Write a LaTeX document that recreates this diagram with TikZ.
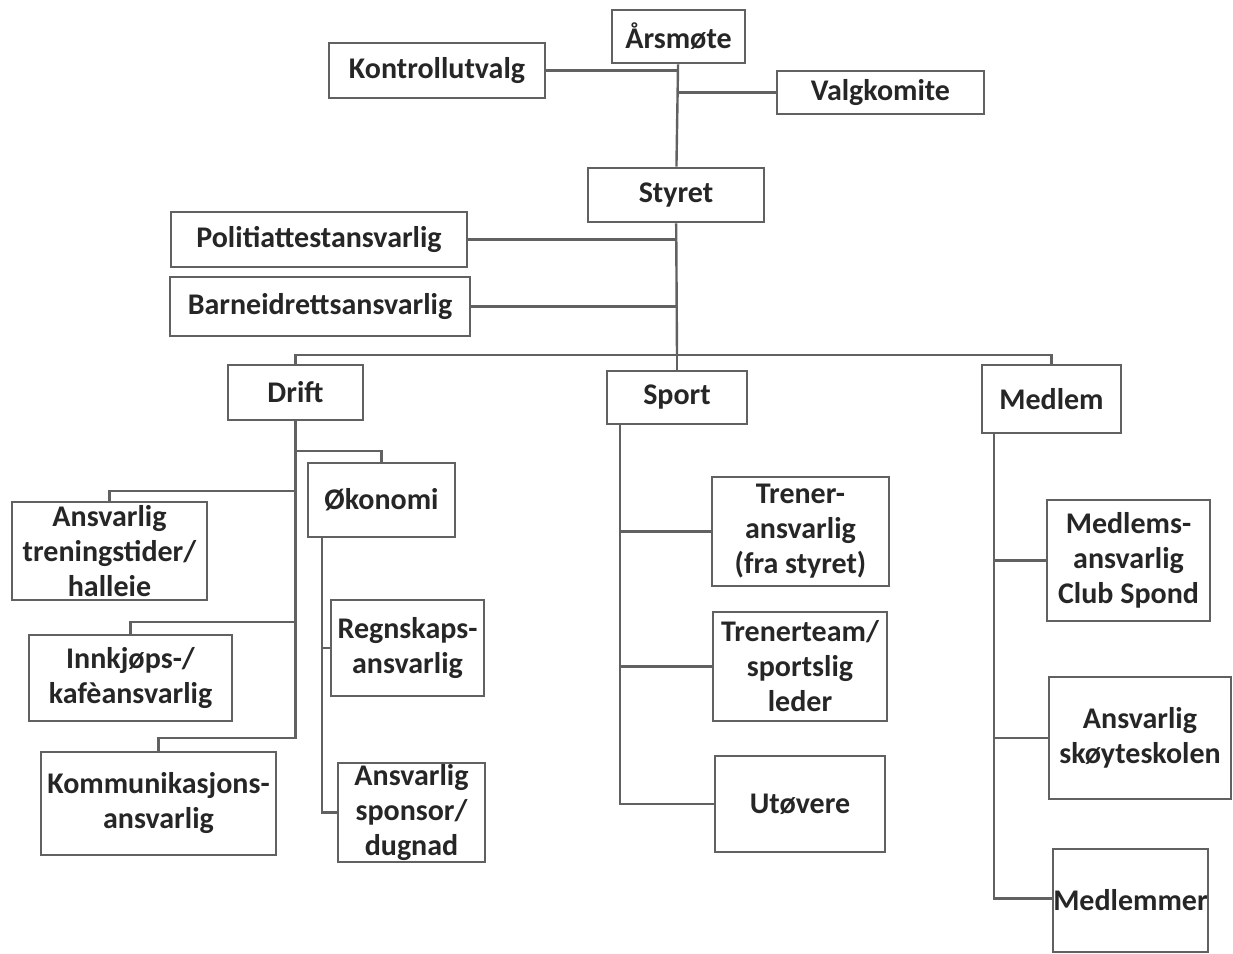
\documentclass[tikz,border=0pt]{standalone}
\usepackage{fontspec}
\setmainfont{Carlito}
\usepackage{tikz}
\usetikzlibrary{positioning}

\definecolor{linegray}{gray}{0.38}

\begin{document}
\begin{tikzpicture}[%
    x=0.5pt,
    y=-0.5pt,
    line width=1.2pt,
    every path/.style={draw=linegray},
    box/.style={draw=linegray, line width=1.3pt, inner sep=0pt, align=center,
      font=\fontsize{15}{17.5}\selectfont\bfseries, text=black!85}
    ]

    \useasboundingbox[draw=none] (0,0) rectangle (1233,954);

    % top
    \node[box, minimum width=66.5pt, minimum height=26.5pt] (arsmote) at (678.5,36.5) {Årsmøte};
    \node[box, minimum width=108pt, minimum height=27.5pt] (kontroll) at (437,70.5) {Kontrollutvalg};
    \node[box, minimum width=103.5pt, minimum height=21.5pt] (valg) at (880.5,92.5) {Valgkomite};
    \node[box, minimum width=88pt, minimum height=27pt] (styret) at (676,195) {Styret};
    \node[box, minimum width=148pt, minimum height=27.5pt] (politi) at (319,239.5) {Politiattestansvarlig};
    \node[box, minimum width=150pt, minimum height=29.5pt] (barne) at (320,306.5) {Barneidrettsansvarlig};

    % groups
    \node[box, minimum width=67.5pt, minimum height=27.5pt] (drift) at (295.5,392.5) {Drift};
    \node[box, minimum width=70pt, minimum height=26.5pt] (sport) at (677,397.5) {Sport};
    \node[box, minimum width=69.5pt, minimum height=34pt] (medlem) at (1051.5,399) {Medlem};

    % drift
    \node[box, minimum width=97.5pt, minimum height=49pt] (trening) at (109.5,551) {Ansvarlig\\treningstider/\\halleie};
    \node[box, minimum width=73.5pt, minimum height=37pt] (okonomi) at (381.5,500) {Økonomi};
    \node[box, minimum width=101.5pt, minimum height=43pt] (innkjop) at (130.5,678) {Innkjøps-/\\kafèansvarlig};
    \node[box, minimum width=76.5pt, minimum height=48pt] (regnskap) at (407.5,648) {Regnskaps-\\ansvarlig};
    \node[box, minimum width=117.5pt, minimum height=51.5pt] (kommunikasjon) at (158.5,803.5) {Kommunikasjons-\\ansvarlig};
    \node[box, minimum width=73.5pt, minimum height=49.5pt] (sponsor) at (411.5,812.5) {Ansvarlig\\sponsor/\\dugnad};

    % sport
    \node[box, minimum width=88.5pt, minimum height=54.5pt] (trener) at (800.5,531.5) {Trener-\\ansvarlig\\(fra styret)};
    \node[box, minimum width=87pt, minimum height=54.5pt] (trenerteam) at (800,666.5) {Trenerteam/\\sportslig\\leder};
    \node[box, minimum width=85pt, minimum height=48pt] (utovere) at (800,804) {Utøvere};

    % medlem
    \node[box, minimum width=81.5pt, minimum height=60.5pt] (medlemsansv) at (1128.5,560.5) {Medlems-\\ansvarlig\\Club Spond};
    \node[box, minimum width=91pt, minimum height=61pt] (skoyte) at (1140,738) {Ansvarlig\\skøyteskolen};
    \node[box, minimum width=77.5pt, minimum height=51.5pt] (medlemmer) at (1130.5,900.5) {Medlemmer};

    \coordinate (bus) at (677,355);

    \draw (arsmote) -- (styret);
    \draw (kontroll.east) -- (kontroll.east -| arsmote.south);
    \draw (valg.west) -- (valg.west -| arsmote.south);
    \draw (politi.east) -- (politi.east -| styret.south);
    \draw (barne.east) -- (barne.east -| styret.south);
    \draw (styret) -- (bus);
    \draw (drift.north) |- (bus) -| (medlem.north);
    \draw (sport) -- (sport |- bus);

    \draw (okonomi.north) -- ++(0,-11) -| (drift.south);
    \draw (trening.north) -- ++(0,-10) -| (drift.south);
    \draw (innkjop.north) -- ++(0,-12) -| (drift.south);
    \draw (kommunikasjon.north) -- ++(0,-13) -| (drift.south);
    \draw ([xshift=7.5pt]okonomi.south west) |- (regnskap.west);
    \draw ([xshift=7.5pt]okonomi.south west) |- (sponsor.west);

    \draw ([xshift=7pt]sport.south west) |- (trener.west);
    \draw ([xshift=7pt]sport.south west) |- (trenerteam.west);
    \draw ([xshift=7pt]sport.south west) |- (utovere.west);

    \draw ([xshift=6.5pt]medlem.south west) |- (medlemsansv.west);
    \draw ([xshift=6.5pt]medlem.south west) |- (skoyte.west);
    \draw ([xshift=6.5pt]medlem.south west) |- ([yshift=1pt]medlemmer.west);

    \end{tikzpicture}
\end{document}
